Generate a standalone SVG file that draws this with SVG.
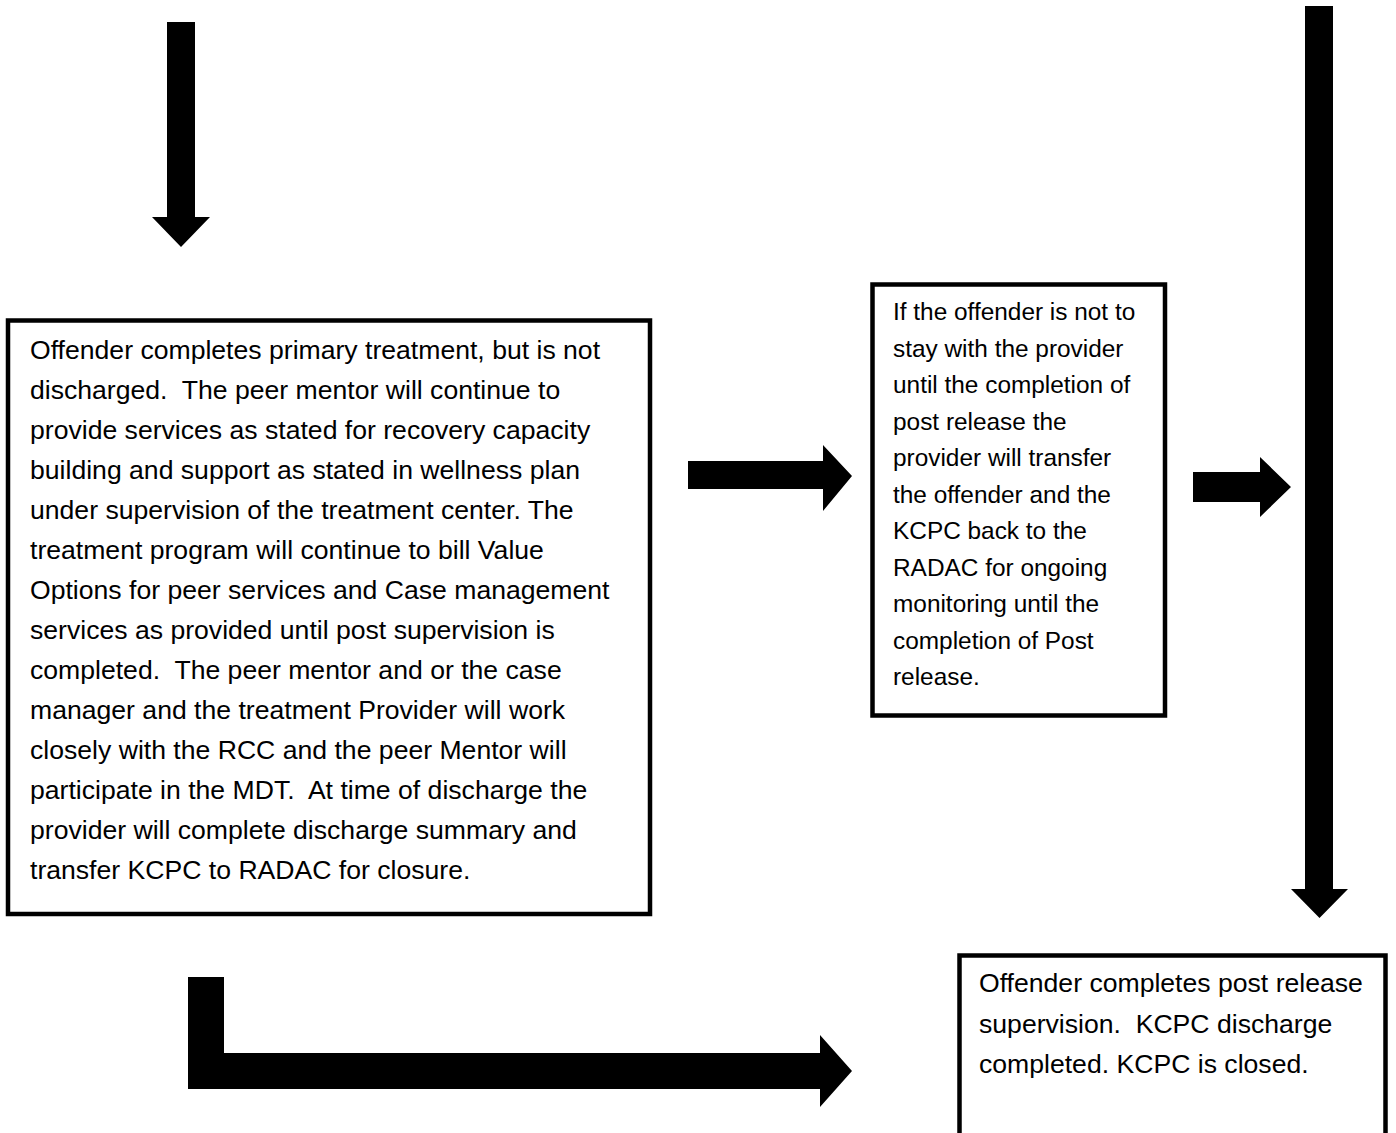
<svg xmlns="http://www.w3.org/2000/svg" width="1396" height="1133" viewBox="0 0 1396 1133">
<style>
.box{fill:#fff;stroke:#000;stroke-width:4.5}
.arrow{fill:#000;stroke:none}
text{font-family:"Liberation Sans",Arial,sans-serif;fill:#000;white-space:pre}
.t1{font-size:26.6px}
.t2{font-size:24.4px}
</style>
<rect width="1396" height="1133" fill="#fff"/>
<g id="connectors">
<polygon class="arrow" points="167,22 195,22 195,217 210,217 181,247 152,217 167,217"/>
<polygon class="arrow" points="688,461 823,461 823,445 852,476 823,511 823,489 688,489"/>
<polygon class="arrow" points="1193,472 1260,472 1260,457 1291,487 1260,517 1260,502 1193,502"/>
<polygon class="arrow" points="1305,6 1333,6 1333,889 1348,889 1319.5,918 1291,889 1305,889"/>
<polygon class="arrow" points="188,977 224,977 224,1053 820,1053 820,1035 852,1071 820,1107 820,1089 188,1089"/>
</g>
<g id="node-primary">
<rect class="box" x="8" y="320.5" width="642" height="593.5"/>
<text class="t1" x="30" y="359">Offender completes primary treatment, but is not</text>
<text class="t1" x="30" y="399">discharged.  The peer mentor will continue to</text>
<text class="t1" x="30" y="439">provide services as stated for recovery capacity</text>
<text class="t1" x="30" y="479">building and support as stated in wellness plan</text>
<text class="t1" x="30" y="519">under supervision of the treatment center. The</text>
<text class="t1" x="30" y="559">treatment program will continue to bill Value</text>
<text class="t1" x="30" y="599">Options for peer services and Case management</text>
<text class="t1" x="30" y="639">services as provided until post supervision is</text>
<text class="t1" x="30" y="679">completed.  The peer mentor and or the case</text>
<text class="t1" x="30" y="719">manager and the treatment Provider will work</text>
<text class="t1" x="30" y="759">closely with the RCC and the peer Mentor will</text>
<text class="t1" x="30" y="799">participate in the MDT.  At time of discharge the</text>
<text class="t1" x="30" y="839">provider will complete discharge summary and</text>
<text class="t1" x="30" y="879">transfer KCPC to RADAC for closure.</text>
</g>
<g id="node-transfer">
<rect class="box" x="872.5" y="284.5" width="292.5" height="431"/>
<text class="t2" x="893" y="320">If the offender is not to</text>
<text class="t2" x="893" y="356.5">stay with the provider</text>
<text class="t2" x="893" y="393">until the completion of</text>
<text class="t2" x="893" y="429.5">post release the</text>
<text class="t2" x="893" y="466">provider will transfer</text>
<text class="t2" x="893" y="502.5">the offender and the</text>
<text class="t2" x="893" y="539">KCPC back to the</text>
<text class="t2" x="893" y="575.5">RADAC for ongoing</text>
<text class="t2" x="893" y="612">monitoring until the</text>
<text class="t2" x="893" y="648.5">completion of Post</text>
<text class="t2" x="893" y="685">release.</text>
</g>
<g id="node-closed">
<rect class="box" x="959.5" y="955.5" width="426" height="200"/>
<text class="t1" x="979" y="992">Offender completes post release</text>
<text class="t1" x="979" y="1032.5">supervision.  KCPC discharge</text>
<text class="t1" x="979" y="1073">completed. KCPC is closed.</text>
</g>
</svg>
